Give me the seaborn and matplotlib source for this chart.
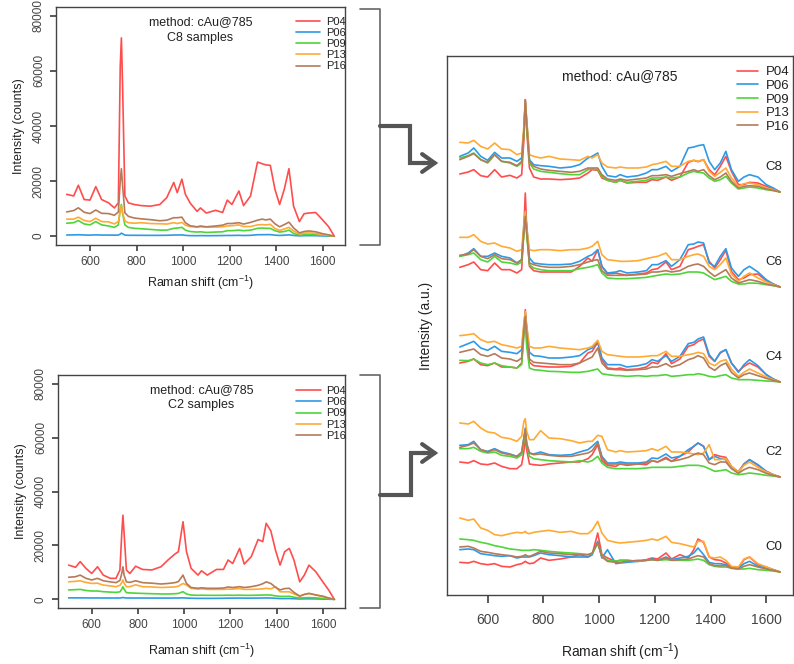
import pandas as pd
import matplotlib
matplotlib.use("Agg")
import matplotlib.pyplot as plt
import seaborn as sns
from matplotlib.lines import Line2D
from matplotlib.patches import FancyArrowPatch

# wavenumber grid (cm-1) shared by every spectrum
raman_shift = [500, 530, 550, 575, 600, 625, 650, 680, 705, 722,
               730, 735, 740, 750, 765, 790, 820, 860, 900, 930,
               960, 975, 995, 1010, 1030, 1060, 1075, 1100, 1140, 1170,
               1190, 1210, 1240, 1260, 1290, 1320, 1340, 1355, 1375, 1395,
               1415, 1435, 1455, 1475, 1500, 1520, 1540, 1570, 1600, 1625,
               1650]

samples = ["P04", "P06", "P09", "P13", "P16"]
sample_colors = ["#ff4d4d", "#2e9ae6", "#4fd43a", "#ffaa33", "#b57a5a"]
conditions = ["C0", "C2", "C4", "C6", "C8"]

# raw spectra (counts), C8 samples
raw_c8_p04 = [15200, 14600, 18500, 13300, 13100, 18000, 13300, 12100, 10250, 12100,
              61500, 72000, 55300, 14600, 12100, 11500, 11100, 10900, 11500, 14000,
              19500, 15800, 20700, 15200, 12100, 9000, 10250, 8400, 9400, 8600,
              13100, 11500, 16400, 11100, 14600, 26900, 26300, 25900, 25700, 17000,
              11500, 17000, 24500, 10900, 5300, 8150, 8400, 8600, 5900, 3500, 0]
raw_c8_p06 = [430, 470, 530, 430, 380, 480, 410, 410, 370, 410,
              750, 1090, 870, 390, 330, 320, 310, 290, 300, 330,
              410, 430, 470, 310, 200, 180, 210, 180, 200, 230,
              270, 270, 310, 250, 310, 530, 540, 560, 570, 370,
              270, 350, 490, 270, 130, 180, 210, 180, 90, 50, 0]
raw_c8_p09 = [4700, 4900, 5700, 4450, 4100, 5300, 4100, 3700, 3200, 4100,
              9600, 11500, 8400, 4100, 3200, 2850, 2700, 2450, 2200, 2200,
              2850, 2950, 3200, 2200, 1700, 1500, 1600, 1350, 1500, 1600,
              2000, 2000, 2200, 2000, 2200, 2850, 2950, 2850, 2850, 2000,
              1500, 1700, 2200, 1000, 400, 500, 600, 500, 350, 200, 0]
raw_c8_p13 = [6200, 6200, 6900, 5700, 5300, 6500, 5300, 5200, 4450, 5300,
              9500, 11000, 8500, 5500, 4900, 4700, 4900, 4600, 4500, 4400,
              4900, 4600, 5000, 4000, 3500, 3300, 3400, 3300, 3300, 3400,
              3700, 3800, 4100, 3500, 3500, 4100, 4200, 4100, 4300, 2800,
              2100, 2600, 3200, 1900, 750, 1100, 1200, 1000, 550, 300, 0]
raw_c8_p16 = [8800, 9300, 10300, 8700, 8200, 9500, 8300, 8200, 7600, 8800,
              20000, 24500, 18500, 8500, 7200, 6600, 6300, 6000, 5600, 5800,
              6700, 6700, 6900, 4900, 3800, 3400, 3700, 3400, 3700, 4000,
              4600, 4600, 4900, 4400, 5000, 5800, 6200, 5900, 6200, 4500,
              3400, 4200, 5100, 3000, 1200, 1700, 1900, 1600, 900, 500, 0]

# raw spectra (counts), C2 samples
raw_c2_p04 = [12700, 11900, 14000, 11500, 9600, 12100, 9000, 7800, 7800, 10900,
              24500, 31200, 24500, 10900, 9600, 12300, 11100, 10900, 12100, 14600,
              16800, 17700, 28800, 17700, 11500, 9000, 10600, 9000, 11100, 11100,
              14600, 13300, 18900, 13100, 15800, 22200, 21400, 28200, 25400, 18300,
              12700, 17700, 18900, 14600, 6500, 9000, 12700, 10200, 6500, 3500, 0]
raw_c2_p06 = [560, 550, 560, 540, 520, 520, 510, 500, 500, 510,
              600, 700, 600, 520, 500, 500, 500, 490, 480, 480,
              500, 510, 580, 480, 420, 360, 380, 360, 380, 400,
              450, 450, 480, 450, 460, 480, 500, 520, 500, 400,
              300, 300, 320, 250, 150, 200, 220, 180, 100, 50, 0]
raw_c2_p09 = [3500, 3600, 3700, 3300, 3100, 3100, 2850, 2700, 2600, 2800,
              3800, 4700, 3800, 2500, 2400, 2300, 2200, 2100, 2000, 2000,
              2100, 2200, 2850, 2000, 1600, 1500, 1550, 1500, 1500, 1500,
              1550, 1500, 1550, 1500, 1500, 1550, 1600, 1650, 1600, 1300,
              1100, 1100, 1150, 800, 500, 600, 650, 550, 350, 200, 0]
raw_c2_p13 = [6500, 6700, 6900, 6300, 5900, 6000, 5300, 5000, 4700, 5200,
              6200, 7200, 6000, 4700, 4700, 5400, 4700, 4600, 4400, 4500,
              4600, 4900, 5900, 5300, 4100, 3800, 3900, 3700, 3700, 3700,
              3800, 3800, 4000, 3700, 3700, 3800, 3900, 4100, 3900, 4700,
              2800, 2800, 2800, 2000, 1200, 1900, 2200, 1700, 1000, 500, 0]
raw_c2_p16 = [8200, 8400, 9000, 7800, 7200, 7800, 6900, 6500, 6200, 7000,
              9600, 12100, 9000, 6500, 6300, 6900, 6200, 6000, 5700, 5900,
              6200, 6600, 9000, 5900, 4400, 4100, 4300, 4100, 4100, 4200,
              4600, 4400, 4700, 4400, 4700, 5200, 5800, 6500, 5900, 4500,
              3500, 4000, 4100, 2600, 1200, 1800, 2200, 1600, 1200, 500, 0]

# normalised spectra (a.u.) for the stacked panel
norm_c8_p04 = [54, 60, 67, 49, 45, 67, 45, 50, 42, 52, 157, 277, 187, 72, 45, 39, 39, 37, 39, 42,
               57, 67, 65, 42, 35, 29, 35, 27, 29, 29, 37, 35, 45, 35, 45, 89, 95, 91, 97, 67,
               52, 77, 107, 62, 22, 22, 29, 27, 17, 9, 0]
norm_c8_p06 = [107, 117, 132, 107, 95, 119, 102, 102, 92, 102, 187, 272, 217, 97, 82, 79, 77, 72, 75, 82,
               102, 107, 117, 77, 49, 45, 52, 45, 49, 57, 67, 67, 77, 62, 77, 132, 135, 139, 142, 92,
               67, 87, 122, 67, 32, 45, 52, 45, 22, 12, 0]
norm_c8_p09 = [102, 109, 117, 97, 87, 112, 92, 87, 77, 87, 177, 262, 197, 87, 69, 62, 59, 55, 52, 52,
               67, 69, 67, 47, 35, 29, 35, 29, 32, 35, 42, 42, 45, 42, 45, 57, 62, 59, 57, 42,
               32, 37, 47, 27, 9, 12, 15, 12, 7, 4, 0]
norm_c8_p13 = [149, 147, 155, 137, 129, 147, 129, 127, 112, 117, 197, 272, 217, 112, 107, 102, 107, 99, 97, 95,
               107, 102, 112, 87, 75, 72, 75, 72, 72, 75, 82, 85, 92, 77, 77, 92, 95, 92, 97, 62,
               47, 59, 72, 42, 17, 25, 27, 22, 12, 7, 0]
norm_c8_p16 = [97, 107, 115, 97, 89, 112, 92, 89, 79, 92, 182, 277, 207, 92, 77, 69, 65, 62, 59, 62,
               72, 72, 72, 52, 39, 35, 39, 35, 39, 42, 49, 49, 52, 47, 55, 62, 67, 62, 67, 49,
               37, 45, 57, 32, 12, 17, 19, 17, 9, 5, 0]

norm_c6_p04 = [59, 67, 75, 52, 49, 72, 52, 52, 42, 52, 177, 282, 177, 62, 49, 45, 45, 45, 45, 62,
               87, 77, 112, 62, 39, 42, 39, 35, 39, 42, 52, 55, 75, 52, 62, 112, 117, 122, 127, 77,
               57, 82, 110, 47, 22, 27, 37, 39, 19, 9, 0]
norm_c6_p06 = [92, 102, 115, 92, 92, 102, 92, 87, 72, 82, 187, 222, 187, 87, 72, 69, 67, 67, 69, 77,
               92, 97, 112, 62, 42, 45, 49, 42, 45, 49, 67, 67, 79, 62, 82, 127, 129, 135, 132, 72,
               62, 92, 115, 57, 32, 52, 62, 45, 22, 9, 0]
norm_c6_p09 = [92, 97, 102, 82, 75, 92, 75, 72, 67, 75, 157, 207, 157, 67, 57, 52, 49, 49, 49, 55,
               59, 62, 67, 42, 27, 25, 25, 25, 27, 29, 32, 35, 39, 37, 39, 45, 45, 45, 42, 32,
               22, 27, 32, 17, 9, 9, 12, 11, 7, 4, 0]
norm_c6_p13 = [149, 149, 157, 137, 129, 132, 122, 117, 107, 112, 187, 227, 177, 112, 109, 112, 112, 109, 112, 112,
               117, 122, 137, 97, 82, 79, 77, 77, 79, 85, 89, 92, 102, 82, 82, 92, 97, 99, 92, 62,
               52, 67, 87, 39, 17, 32, 42, 27, 15, 7, 0]
norm_c6_p16 = [95, 99, 112, 92, 85, 97, 85, 82, 72, 82, 167, 212, 167, 72, 67, 62, 59, 59, 62, 67,
               75, 79, 82, 49, 35, 35, 35, 35, 37, 39, 45, 45, 49, 45, 49, 62, 67, 69, 62, 45,
               32, 42, 52, 27, 12, 17, 22, 17, 9, 5, 0]

norm_c4_p04 = [57, 62, 69, 52, 49, 57, 45, 45, 42, 57, 157, 217, 157, 59, 49, 47, 45, 45, 47, 57,
               87, 92, 119, 67, 42, 39, 42, 37, 39, 45, 59, 55, 85, 55, 69, 107, 112, 122, 129, 77,
               62, 87, 97, 57, 32, 47, 57, 45, 22, 9, 0]
norm_c4_p06 = [105, 115, 122, 102, 95, 107, 92, 89, 85, 97, 167, 207, 167, 89, 79, 77, 72, 72, 75, 79,
               97, 102, 122, 72, 52, 52, 52, 45, 49, 55, 67, 62, 79, 62, 77, 115, 119, 129, 135, 82,
               62, 89, 97, 57, 29, 52, 67, 49, 22, 9, 0]
norm_c4_p09 = [65, 64, 69, 57, 52, 57, 49, 45, 42, 52, 137, 177, 107, 42, 37, 35, 32, 31, 29, 29,
               32, 35, 39, 25, 22, 19, 19, 17, 19, 17, 19, 19, 22, 17, 19, 22, 22, 25, 22, 17,
               15, 19, 22, 12, 7, 7, 7, 5, 3, 2, 0]
norm_c4_p13 = [139, 142, 145, 127, 119, 122, 112, 107, 102, 107, 177, 212, 167, 107, 102, 102, 107, 102, 99, 97,
               102, 107, 125, 92, 82, 79, 77, 75, 75, 77, 79, 79, 92, 77, 77, 82, 85, 89, 85, 57,
               49, 62, 67, 39, 17, 29, 39, 27, 15, 7, 0]
norm_c4_p16 = [89, 95, 99, 82, 77, 85, 72, 69, 62, 72, 157, 197, 147, 69, 59, 57, 55, 52, 52, 57,
               69, 75, 102, 57, 39, 37, 37, 35, 37, 39, 45, 45, 55, 45, 52, 67, 72, 79, 72, 45,
               35, 49, 57, 29, 12, 22, 27, 19, 11, 5, 0]

norm_c2_p04 = [45, 42, 49, 39, 37, 42, 32, 25, 25, 37, 77, 117, 82, 39, 37, 35, 39, 42, 45, 45,
               55, 67, 97, 49, 35, 32, 39, 35, 39, 37, 49, 45, 59, 47, 62, 75, 92, 102, 92, 52,
               67, 62, 59, 32, 15, 39, 52, 35, 17, 7, 0]
norm_c2_p06 = [95, 97, 107, 82, 77, 85, 75, 69, 62, 72, 117, 147, 97, 72, 69, 75, 67, 65, 67, 75,
               82, 92, 107, 62, 42, 42, 45, 42, 42, 45, 57, 55, 69, 57, 62, 82, 92, 102, 92, 52,
               62, 55, 52, 29, 15, 39, 52, 37, 17, 7, 0]
norm_c2_p09 = [85, 85, 89, 77, 72, 75, 65, 62, 57, 67, 107, 137, 97, 62, 55, 52, 49, 47, 45, 49,
               45, 49, 62, 42, 29, 25, 25, 25, 25, 27, 29, 29, 29, 29, 32, 35, 35, 35, 32, 25,
               17, 19, 22, 12, 7, 9, 12, 9, 5, 3, 0]
norm_c2_p13 = [162, 159, 167, 147, 135, 132, 119, 115, 107, 122, 167, 175, 137, 112, 112, 139, 117, 115, 109, 102,
               107, 107, 125, 122, 82, 75, 79, 75, 77, 79, 85, 79, 92, 75, 75, 72, 69, 67, 72, 97,
               52, 52, 55, 32, 15, 35, 45, 29, 15, 7, 0]
norm_c2_p16 = [89, 95, 102, 82, 75, 82, 72, 67, 62, 75, 117, 142, 102, 72, 67, 69, 65, 62, 62, 67,
               72, 79, 102, 57, 39, 39, 39, 39, 39, 42, 49, 45, 55, 47, 52, 59, 67, 72, 67, 42,
               37, 45, 45, 25, 11, 22, 29, 22, 11, 5, 0]

norm_c0_p04 = [29, 27, 32, 25, 22, 25, 17, 15, 22, 25, 29, 32, 29, 25, 27, 42, 35, 39, 45, 52,
               45, 52, 117, 52, 42, 32, 35, 35, 32, 37, 42, 39, 57, 39, 52, 42, 67, 99, 89, 45,
               37, 35, 27, 15, 12, 37, 45, 22, 15, 7, 0]
norm_c0_p06 = [67, 69, 67, 55, 52, 49, 47, 49, 42, 45, 45, 45, 45, 45, 49, 57, 52, 49, 45, 45,
               45, 52, 92, 42, 67, 25, 27, 29, 32, 35, 39, 35, 45, 37, 42, 47, 57, 72, 52, 29,
               25, 25, 22, 12, 11, 25, 32, 17, 12, 7, 0]
norm_c0_p09 = [99, 97, 95, 89, 85, 79, 75, 69, 67, 65, 65, 65, 65, 65, 67, 65, 62, 59, 57, 55,
               52, 55, 85, 49, 35, 32, 35, 35, 32, 35, 37, 35, 37, 35, 35, 35, 37, 39, 35, 22,
               17, 15, 15, 12, 9, 9, 11, 7, 5, 3, 0]
norm_c0_p13 = [162, 155, 159, 132, 125, 112, 109, 115, 119, 117, 119, 122, 117, 115, 119, 122, 125, 119, 122, 115,
               115, 125, 152, 117, 95, 89, 87, 89, 92, 95, 99, 95, 107, 89, 85, 79, 75, 92, 92, 45,
               42, 45, 35, 17, 15, 39, 45, 25, 15, 7, 0]
norm_c0_p16 = [75, 77, 72, 62, 59, 55, 52, 49, 45, 47, 49, 52, 49, 47, 52, 62, 57, 55, 52, 52,
               52, 57, 89, 45, 32, 29, 29, 32, 35, 35, 37, 35, 42, 35, 37, 39, 45, 49, 45, 25,
               19, 19, 19, 11, 9, 17, 22, 15, 9, 5, 0]

raw_c8 = [raw_c8_p04, raw_c8_p06, raw_c8_p09, raw_c8_p13, raw_c8_p16]
raw_c2 = [raw_c2_p04, raw_c2_p06, raw_c2_p09, raw_c2_p13, raw_c2_p16]
norm_spectra = {
    "C0": [norm_c0_p04, norm_c0_p06, norm_c0_p09, norm_c0_p13, norm_c0_p16],
    "C2": [norm_c2_p04, norm_c2_p06, norm_c2_p09, norm_c2_p13, norm_c2_p16],
    "C4": [norm_c4_p04, norm_c4_p06, norm_c4_p09, norm_c4_p13, norm_c4_p16],
    "C6": [norm_c6_p04, norm_c6_p06, norm_c6_p09, norm_c6_p13, norm_c6_p16],
    "C8": [norm_c8_p04, norm_c8_p06, norm_c8_p09, norm_c8_p13, norm_c8_p16],
}
stack_step = 285  # vertical offset between conditions in the stacked panel

palette = dict(zip(samples, sample_colors))


def to_long(spectra, condition="", offset=0):
    rows = []
    for name, values in zip(samples, spectra):
        for x, y in zip(raman_shift, values):
            rows.append({"shift": x, "intensity": y + offset, "sample": name, "condition": condition})
    return pd.DataFrame(rows)


sns.set_theme(style="ticks")
plt.rcParams.update({
    "font.family": ["Liberation Sans", "DejaVu Sans"],
    "mathtext.default": "regular",
    "axes.edgecolor": "#444444",
    "axes.linewidth": 1.0,
    "xtick.color": "#444444",
    "ytick.color": "#444444",
    "xtick.major.size": 4.5,
    "ytick.major.size": 4.5,
    "text.color": "#222222",
    "axes.labelcolor": "#222222",
})

W, H = 794, 664
fig = plt.figure(figsize=(W / 100, H / 100), dpi=100)


def px_rect(left, top, right, bottom):
    return [left / W, 1 - bottom / H, (right - left) / W, (bottom - top) / H]


def fx(x):
    return x / W


def fy(y):
    return 1 - y / H


def draw_raw(ax, spectra, subtitle, legend_top, xlabel_pad):
    sns.lineplot(data=to_long(spectra), x="shift", y="intensity", hue="sample",
                 palette=palette, estimator=None, sort=False, lw=1.2, ax=ax)
    ax.set_xlim(454, 1696)
    ax.set_ylim(-3200, 83200)
    ax.set_xticks(range(600, 1601, 200))
    ax.set_yticks(range(0, 80001, 20000))
    ax.tick_params(labelsize=8.5)
    plt.setp(ax.get_yticklabels(), rotation=90, va="center")
    ax.set_xlabel("Raman shift (cm$^{-1}$)", fontsize=9, labelpad=xlabel_pad)
    ax.set_ylabel("Intensity (counts)", fontsize=9, labelpad=6)
    ax.text(0.5, 0.935, "method: cAu@785", transform=ax.transAxes, ha="center", va="center", fontsize=9)
    ax.text(0.5, 0.87, subtitle, transform=ax.transAxes, ha="center", va="center", fontsize=9)
    sns.move_legend(ax, loc="upper left", bbox_to_anchor=(0.83, legend_top), frameon=False, title=None,
                    fontsize=8, handlelength=2.2, handletextpad=0.5, labelspacing=0.1,
                    borderaxespad=0, borderpad=0)


ax_top = fig.add_axes(px_rect(56, 7, 345, 245))
draw_raw(ax_top, raw_c8, "C8 samples", 0.958, 4)

ax_bot = fig.add_axes(px_rect(58, 375, 345, 608))
draw_raw(ax_bot, raw_c2, "C2 samples", 0.952, 8)

# stacked, normalised spectra
ax_r = fig.add_axes(px_rect(447, 56, 793, 595))
stacked = pd.concat([to_long(norm_spectra[c], c, i * stack_step) for i, c in enumerate(conditions)])
sns.lineplot(data=stacked, x="shift", y="intensity", hue="sample", units="condition",
             palette=palette, estimator=None, sort=False, lw=1.2, ax=ax_r)
ax_r.set_xlim(454, 1696)
ax_r.set_ylim(-69, 1548)
ax_r.set_xticks(range(600, 1601, 200))
ax_r.set_yticks([])
ax_r.tick_params(axis="x", labelsize=10, length=6, pad=7)
ax_r.set_xlabel("Raman shift (cm$^{-1}$)", fontsize=10, labelpad=10)
ax_r.set_ylabel("Intensity (a.u.)", fontsize=10, labelpad=10)
ax_r.text(0.5, 0.963, "method: cAu@785", transform=ax_r.transAxes, ha="center", va="center", fontsize=10)
for i, c in enumerate(conditions):
    ax_r.text(1628, i * stack_step + 75, c, ha="center", va="center", fontsize=9.5)
sns.move_legend(ax_r, loc="upper left", bbox_to_anchor=(0.838, 0.981), frameon=False, title=None,
                fontsize=9.5, handlelength=1.6, handletextpad=0.6, labelspacing=0.1,
                borderaxespad=0, borderpad=0)

# brackets and connector arrows
bracket_kw = dict(color="#666666", lw=1.2, transform=fig.transFigure)
arrow_kw = dict(color="#555555", lw=3, transform=fig.transFigure, solid_joinstyle="miter")
fig.add_artist(Line2D([fx(360), fx(380), fx(380), fx(360)], [fy(9), fy(9), fy(245), fy(245)], **bracket_kw))
fig.add_artist(Line2D([fx(360), fx(380), fx(380), fx(360)], [fy(375), fy(375), fy(608), fy(608)], **bracket_kw))
fig.add_artist(Line2D([fx(380), fx(410), fx(410), fx(425)], [fy(126), fy(126), fy(163), fy(163)], **arrow_kw))
fig.add_artist(Line2D([fx(380), fx(411), fx(411), fx(425)], [fy(495), fy(495), fy(453), fy(453)], **arrow_kw))
for ya in (163, 453):
    fig.add_artist(FancyArrowPatch((fx(420), fy(ya)), (fx(441), fy(ya)), transform=fig.transFigure,
                                   arrowstyle="->,head_length=0.45,head_width=0.32", mutation_scale=20,
                                   color="#555555", lw=3, joinstyle="miter"))

fig.savefig("out.png", dpi=100)
